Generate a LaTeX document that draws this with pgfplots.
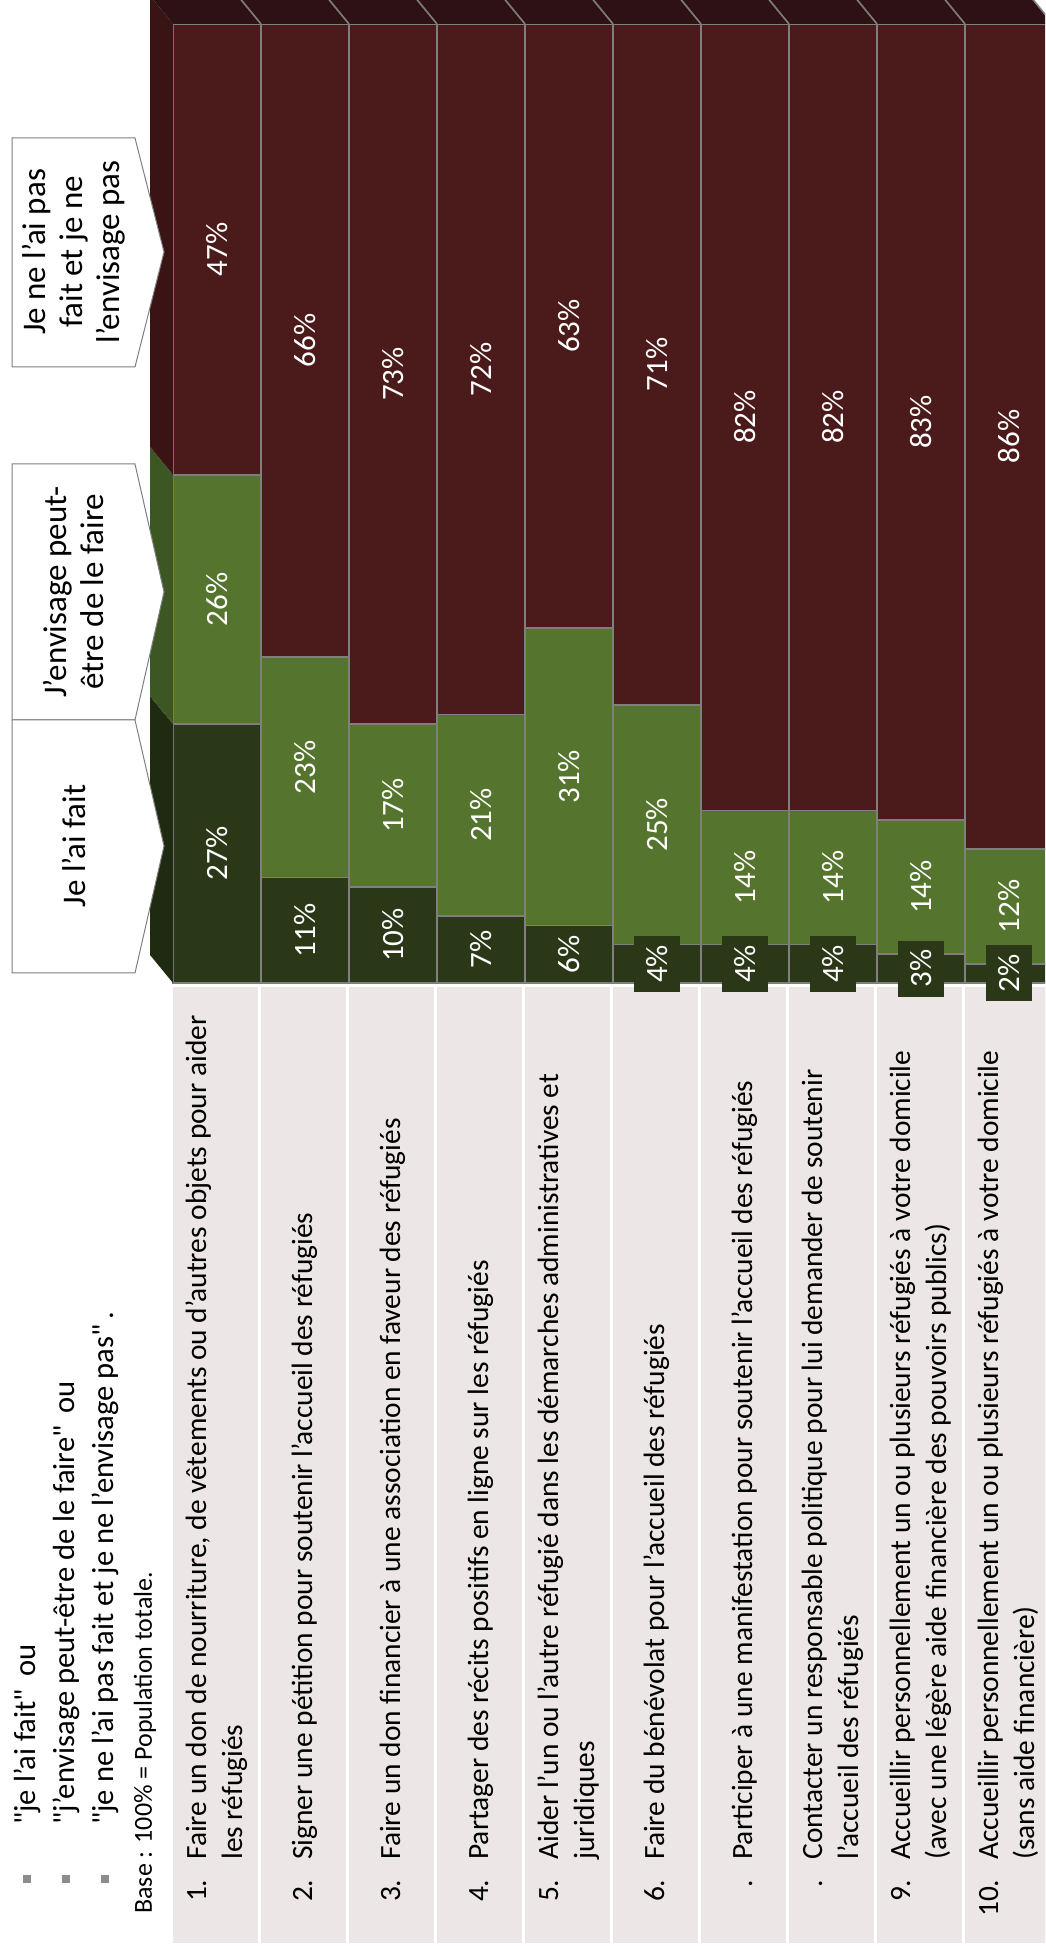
\documentclass[border=0pt]{standalone}
\usepackage{pgfplots}
\pgfplotsset{compat=1.18}
\usepackage{pgfplotstable}
\usepackage{fontspec}
\setmainfont{Carlito}
\definecolor{dkg}{HTML}{2A3818}
\definecolor{mdg}{HTML}{55742E}
\definecolor{barred}{HTML}{4B1A1A}
\definecolor{topred}{HTML}{2E1114}
\definecolor{sidered}{HTML}{3A1414}
\definecolor{sidegreen}{HTML}{3D5723}
\definecolor{sidedkg}{HTML}{1F2B11}
\definecolor{edge}{HTML}{7F7F7F}
\definecolor{tablebg}{HTML}{ECE6E6}
\definecolor{bullet}{HTML}{8C8C8C}
\newcommand\labfont{\fontsize{15.5}{18}\selectfont}
\newcommand\boxfont{\fontsize{16.5}{18.5}\selectfont}
\newcommand\tabfont{\fontsize{14.7}{18}\selectfont}
\newcommand\headfont{\fontsize{15.3}{18}\selectfont}
\newcommand\basefont{\fontsize{13}{15}\selectfont}
\newcommand\num[1]{\makebox[18pt][r]{#1}}
\newcommand\q{\textquotedbl}

\pgfplotstableread{
x a b c
0 27 26 47
1 11 23 66
2 10 17 73
3 7 21 72
4 6 31 63
5 4 25 71
6 4 14 82
7 4 14 82
8 3 14 83
9 2 12 86
}\data

\pgfplotsset{
  geom/.style={
    at={(86.5pt,483.5pt)}, anchor=south west,
    scale only axis, width=440pt, height=479.5pt,
    xmin=-0.5, xmax=9.5, ymin=0, ymax=100,
    hide axis, clip=false,
    /pgf/number format/assume math mode=true,
  },
  lab/.style={draw=none, mark=none, nodes near coords={\pgfmathprintnumber{\pgfplotspointmeta}\%},
    every node near coord/.append style={rotate=90, anchor=center, text=white, font=\labfont}},
}

\begin{document}
\begin{tikzpicture}
\useasboundingbox (0,0) rectangle (522.5pt,975pt);
\clip (0,0) rectangle (522.5pt,975pt);
\fill[white] (0,0) rectangle (522.5pt,975pt);

\begin{scope}[x=0.5pt, y=-0.5pt, shift={(0pt,975pt)}]
% table background
\foreach \k in {0,...,9}{
  \fill[tablebg] ({173+88*\k},987) rectangle ({173+88*\k+85},1943);
}
% header
\foreach \xx in {27,66,105}{
  \fill[bullet] (\xx-4,1875) rectangle (\xx+4,1883);
}
\node[rotate=90, anchor=west, inner sep=0, font=\headfont] at (27,1825) {\q je l’ai fait\q\, ou};
\node[rotate=90, anchor=west, inner sep=0, font=\headfont] at (66,1825) {\q j’envisage peut-être de le faire\q\, ou};
\node[rotate=90, anchor=west, inner sep=0, font=\headfont] at (105,1825) {\q je ne l’ai pas fait et je ne l’envisage pas\q\,.};
\node[rotate=90, anchor=west, inner sep=0, font=\basefont] at (145,1914) {Base : 100\% = Population totale.};
% category labels
\tikzset{cat/.style={rotate=90, anchor=west, inner sep=0, font=\tabfont}}
\node[cat] at (217,1916) {\begin{tabular}[t]{@{}l@{\hspace{10pt}}l@{}}\num{1.} & Faire un don de nourriture, de vêtements ou d’autres objets pour aider\\ & les réfugiés\end{tabular}};
\node[cat] at (305,1916) {\begin{tabular}[t]{@{}l@{\hspace{10pt}}l@{}}\num{2.} & Signer une pétition pour soutenir l’accueil des réfugiés\end{tabular}};
\node[cat] at (393,1916) {\begin{tabular}[t]{@{}l@{\hspace{10pt}}l@{}}\num{3.} & Faire un don financier à une association en faveur des réfugiés\end{tabular}};
\node[cat] at (481,1916) {\begin{tabular}[t]{@{}l@{\hspace{10pt}}l@{}}\num{4.} & Partager des récits positifs en ligne sur les réfugiés\end{tabular}};
\node[cat] at (569,1916) {\begin{tabular}[t]{@{}l@{\hspace{10pt}}l@{}}\num{5.} & Aider l’un ou l’autre réfugié dans les démarches administratives et\\ & juridiques\end{tabular}};
\node[cat] at (657,1916) {\begin{tabular}[t]{@{}l@{\hspace{10pt}}l@{}}\num{6.} & Faire du bénévolat pour l’accueil des réfugiés\end{tabular}};
\node[cat] at (745,1916) {\begin{tabular}[t]{@{}l@{\hspace{10pt}}l@{}}\num{.} & Participer à une manifestation pour soutenir l’accueil des réfugiés\end{tabular}};
\node[cat] at (833,1916) {\begin{tabular}[t]{@{}l@{\hspace{10pt}}l@{}}\num{.} & Contacter un responsable politique pour lui demander de soutenir\\ & l’accueil des réfugiés\end{tabular}};
\node[cat] at (921,1916) {\begin{tabular}[t]{@{}l@{\hspace{10pt}}l@{}}\num{9.} & Accueillir personnellement un ou plusieurs réfugiés à votre domicile\\ & (avec une légère aide financière des pouvoirs publics)\end{tabular}};
\node[cat] at (1009,1916) {\begin{tabular}[t]{@{}l@{\hspace{10pt}}l@{}}\num{10.} & Accueillir personnellement un ou plusieurs réfugiés à votre domicile\\ & (sans aide financière)\end{tabular}};
\end{scope}

% bars
\begin{axis}[geom, ybar stacked, bar width=44pt,
  every axis plot/.append style={draw=edge, line width=0.8pt}]
\addplot[fill=dkg] table[x=x,y=a]{\data};
\addplot[fill=mdg] table[x=x,y=b]{\data};
\addplot[fill=barred] table[x=x,y=c]{\data};
\end{axis}

% 3D faces and value labels
\begin{axis}[geom]
\addplot[fill=sidedkg, draw=none] coordinates {(-0.5,0) (-0.5,27) (-0.761,29.92) (-0.761,2.92) (-0.5,0)};
\addplot[fill=sidegreen, draw=none] coordinates {(-0.5,27) (-0.5,53) (-0.761,55.92) (-0.761,29.92) (-0.5,27)};
\addplot[fill=sidered, draw=none] coordinates {(-0.5,53) (-0.5,100) (-0.761,102.92) (-0.761,55.92) (-0.5,53)};
\addplot[fill=topred, draw=none] coordinates {(-0.5,100) (9.5,100) (9.239,102.92) (-0.761,102.92) (-0.5,100)};
\addplot[draw=edge, line width=0.8pt] coordinates {(0.5,100) (0.239,102.92)};
\addplot[draw=edge, line width=0.8pt] coordinates {(1.5,100) (1.239,102.92)};
\addplot[draw=edge, line width=0.8pt] coordinates {(2.5,100) (2.239,102.92)};
\addplot[draw=edge, line width=0.8pt] coordinates {(3.5,100) (3.239,102.92)};
\addplot[draw=edge, line width=0.8pt] coordinates {(4.5,100) (4.239,102.92)};
\addplot[draw=edge, line width=0.8pt] coordinates {(5.5,100) (5.239,102.92)};
\addplot[draw=edge, line width=0.8pt] coordinates {(6.5,100) (6.239,102.92)};
\addplot[draw=edge, line width=0.8pt] coordinates {(7.5,100) (7.239,102.92)};
\addplot[draw=edge, line width=0.8pt] coordinates {(8.5,100) (8.239,102.92)};
\addplot[draw=edge, line width=0.8pt] coordinates {(9.5,100) (9.239,102.92)};
% labels
\addplot[lab, point meta=\thisrow{a}, every node near coord/.append style={fill=dkg, inner xsep=4.5pt, inner ysep=6pt}]
  table[x=x, y expr=\thisrow{a}/2]{\data};
\addplot[lab, point meta=\thisrow{b}] table[x=x, y expr=\thisrow{a}+\thisrow{b}/2]{\data};
\addplot[lab, point meta=\thisrow{c}] table[x=x, y expr=\thisrow{a}+\thisrow{b}+\thisrow{c}/2]{\data};
\end{axis}

% callout boxes
\begin{scope}[x=0.5pt, y=-0.5pt, shift={(0pt,975pt)}]
\draw[edge, line width=0.5pt, fill=white] (12,138) -- (135,138) -- (164,252) -- (135,367) -- (12,367) -- cycle;
\draw[edge, line width=0.5pt, fill=white] (12,464) -- (135,464) -- (164,592) -- (135,720) -- (12,720) -- cycle;
\draw[edge, line width=0.5pt, fill=white] (12,720) -- (135,720) -- (164,846) -- (135,973) -- (12,973) -- cycle;
\node[rotate=90, align=center, font=\boxfont] at (73.5,252) {Je ne l’ai pas\\fait et je ne\\l’envisage pas};
\node[rotate=90, align=center, font=\boxfont] at (73.5,592) {J’envisage peut-\\être de le faire};
\node[rotate=90, align=center, font=\boxfont] at (73.5,846) {Je l'ai fait};
\end{scope}
\end{tikzpicture}
\end{document}
